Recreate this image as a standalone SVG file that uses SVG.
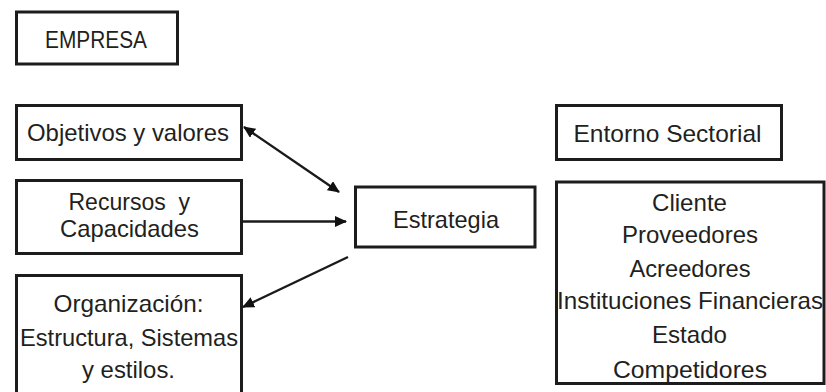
<svg xmlns="http://www.w3.org/2000/svg" width="826" height="392" viewBox="0 0 826 392">
  <style>
    .box { fill: #ffffff; stroke: #1c1c1c; stroke-width: 3; }
    .lbl { font-family: "Liberation Sans", Arial, sans-serif; font-size: 24px; fill: #231f20; }
    .link { stroke: #1a1a1a; stroke-width: 2.4; fill: none; }
  </style>
  <defs>
    <marker id="head" viewBox="0 0 12 11" markerWidth="12" markerHeight="11" refX="11" refY="5.5" orient="auto-start-reverse" markerUnits="userSpaceOnUse">
      <path d="M0,0 L12,5.5 L0,11 Z" fill="#111111"/>
    </marker>
  </defs>
  <rect width="826" height="392" fill="#ffffff"/>

  <g id="empresa">
    <rect class="box" x="16.5" y="12" width="161" height="52"/>
    <text class="lbl" x="45" y="47.5" textLength="102" lengthAdjust="spacingAndGlyphs">EMPRESA</text>
  </g>

  <g id="objetivos">
    <rect class="box" x="16.5" y="105.5" width="225" height="54"/>
    <text class="lbl" x="27" y="141" textLength="202" lengthAdjust="spacingAndGlyphs">Objetivos y valores</text>
  </g>

  <g id="recursos">
    <rect class="box" x="16.5" y="180.5" width="225" height="73"/>
    <text class="lbl" x="68.5" y="210" textLength="121.5" lengthAdjust="spacingAndGlyphs" style="white-space:pre">Recursos  y</text>
    <text class="lbl" x="60" y="236.5" textLength="139" lengthAdjust="spacingAndGlyphs">Capacidades</text>
  </g>

  <g id="organizacion">
    <rect class="box" x="16.5" y="275.5" width="225" height="130"/>
    <text class="lbl" x="53.5" y="312" textLength="150" lengthAdjust="spacingAndGlyphs">Organización:</text>
    <text class="lbl" x="20" y="345.5" textLength="218" lengthAdjust="spacingAndGlyphs">Estructura, Sistemas</text>
    <text class="lbl" x="82" y="378" textLength="93" lengthAdjust="spacingAndGlyphs">y estilos.</text>
  </g>

  <g id="estrategia">
    <rect class="box" x="355.5" y="187" width="179.5" height="60"/>
    <text class="lbl" x="393" y="228" textLength="106" lengthAdjust="spacingAndGlyphs">Estrategia</text>
  </g>

  <g id="entorno">
    <rect class="box" x="556.5" y="105.5" width="225" height="54"/>
    <text class="lbl" x="573.5" y="142" textLength="188" lengthAdjust="spacingAndGlyphs">Entorno Sectorial</text>
  </g>

  <g id="actores">
    <rect class="box" x="556.5" y="182" width="267.5" height="201.5"/>
    <text class="lbl" x="652" y="210.5" textLength="75" lengthAdjust="spacingAndGlyphs">Cliente</text>
    <text class="lbl" x="622" y="243" textLength="136" lengthAdjust="spacingAndGlyphs">Proveedores</text>
    <text class="lbl" x="629.5" y="276.5" textLength="121" lengthAdjust="spacingAndGlyphs">Acreedores</text>
    <text class="lbl" x="557" y="308.5" textLength="266" lengthAdjust="spacingAndGlyphs">Instituciones Financieras</text>
    <text class="lbl" x="652" y="342.5" textLength="75" lengthAdjust="spacingAndGlyphs">Estado</text>
    <text class="lbl" x="613" y="377.5" textLength="154" lengthAdjust="spacingAndGlyphs">Competidores</text>
  </g>

  <g id="connectors">
    <line class="link" x1="244" y1="127" x2="339" y2="192" marker-start="url(#head)" marker-end="url(#head)"/>
    <line class="link" x1="242" y1="221.5" x2="346" y2="221.5" marker-end="url(#head)"/>
    <line class="link" x1="348" y1="257" x2="243" y2="307" marker-end="url(#head)"/>
  </g>
</svg>
